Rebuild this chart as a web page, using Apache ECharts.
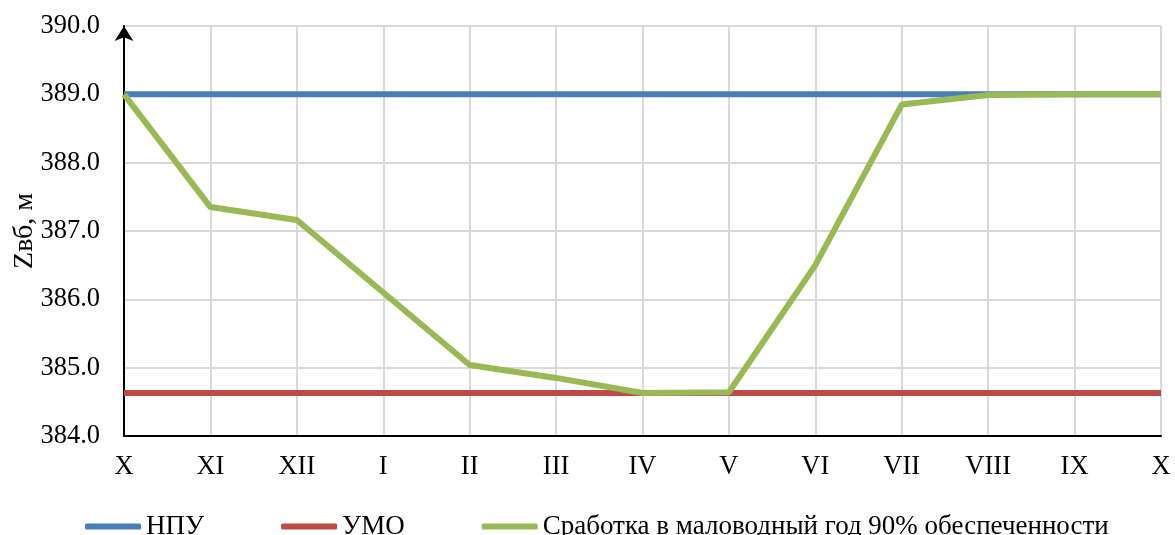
<!DOCTYPE html>
<html>
<head>
<meta charset="utf-8">
<script src="https://cdn.jsdelivr.net/npm/echarts@6/dist/echarts.min.js"></script>
<style>
html,body{margin:0;padding:0;background:#fff;}
#chart{width:1175px;height:535px;}
</style>
</head>
<body>
<div id="chart"></div>
<script>
const categories = ['X','XI','XII','I','II','III','IV','V','VI','VII','VIII','IX','X '];
const npu = [389.0,389.0,389.0,389.0,389.0,389.0,389.0,389.0,389.0,389.0,389.0,389.0,389.0];
const umo = [384.63,384.63,384.63,384.63,384.63,384.63,384.63,384.63,384.63,384.63,384.63,384.63,384.63];
const drawdown = [389.0,387.35,387.16,386.1,385.04,384.85,384.63,384.64,386.5,388.85,388.99,389.0,389.0];
const seriesNames = ['НПУ','УМО','Сработка в маловодный год 90% обеспеченности'];
const colors = ['#4A7EBB','#BE4B48','#98B954'];

const font = 'Liberation Serif, Times New Roman, serif';
const fs = 26.5;
const chart = echarts.init(document.getElementById('chart'));
chart.setOption({
  animation: false,
  color: colors,
  textStyle: {fontFamily: font},
  grid: {left: 124, right: 14, top: 26, bottom: 99, containLabel: false, outerBoundsMode: 'none'},
  legend: {
    data: seriesNames,
    left: 80,
    top: 508,
    itemWidth: 56,
    itemHeight: 6,
    itemGap: 77,
    icon: 'roundRect',
    textStyle: {fontFamily: font, fontSize: 27, color: '#000', padding: [0,0,0,0]}
  },
  xAxis: {
    type: 'category',
    data: categories,
    boundaryGap: false,
    axisLine: {lineStyle: {color: '#000', width: 2}},
    axisTick: {show: false},
    axisLabel: {fontFamily: font, fontSize: fs, color: '#000', margin: 18, interval: 0,
      formatter: v => v.trim()},
    splitLine: {show: true, lineStyle: {color: '#D9D9D9', width: 2}}
  },
  yAxis: {
    type: 'value',
    min: 384, max: 390, interval: 1,
    name: 'Zвб, м',
    nameLocation: 'middle',
    nameGap: 85,
    nameMoveOverlap: false,
    nameTextStyle: {fontFamily: font, fontSize: 28, color: '#000'},
    axisLine: {show: true, symbol: ['none','arrow'], symbolSize: [14, 15], lineStyle: {color: '#000', width: 2}},
    axisTick: {show: false},
    axisLabel: {fontFamily: font, fontSize: fs, color: '#000', margin: 24, formatter: v => v.toFixed(1)},
    splitLine: {show: true, lineStyle: {color: '#D9D9D9', width: 2}}
  },
  series: [
    {name: seriesNames[0], type: 'line', data: npu, symbol: 'none', lineStyle: {width: 6, color: colors[0]}, z: 2},
    {name: seriesNames[1], type: 'line', data: umo, symbol: 'none', lineStyle: {width: 6, color: colors[1]}, z: 3},
    {name: seriesNames[2], type: 'line', data: drawdown, symbol: 'none', lineStyle: {width: 6, color: colors[2]}, z: 4}
  ]
});
</script>
</body>
</html>
